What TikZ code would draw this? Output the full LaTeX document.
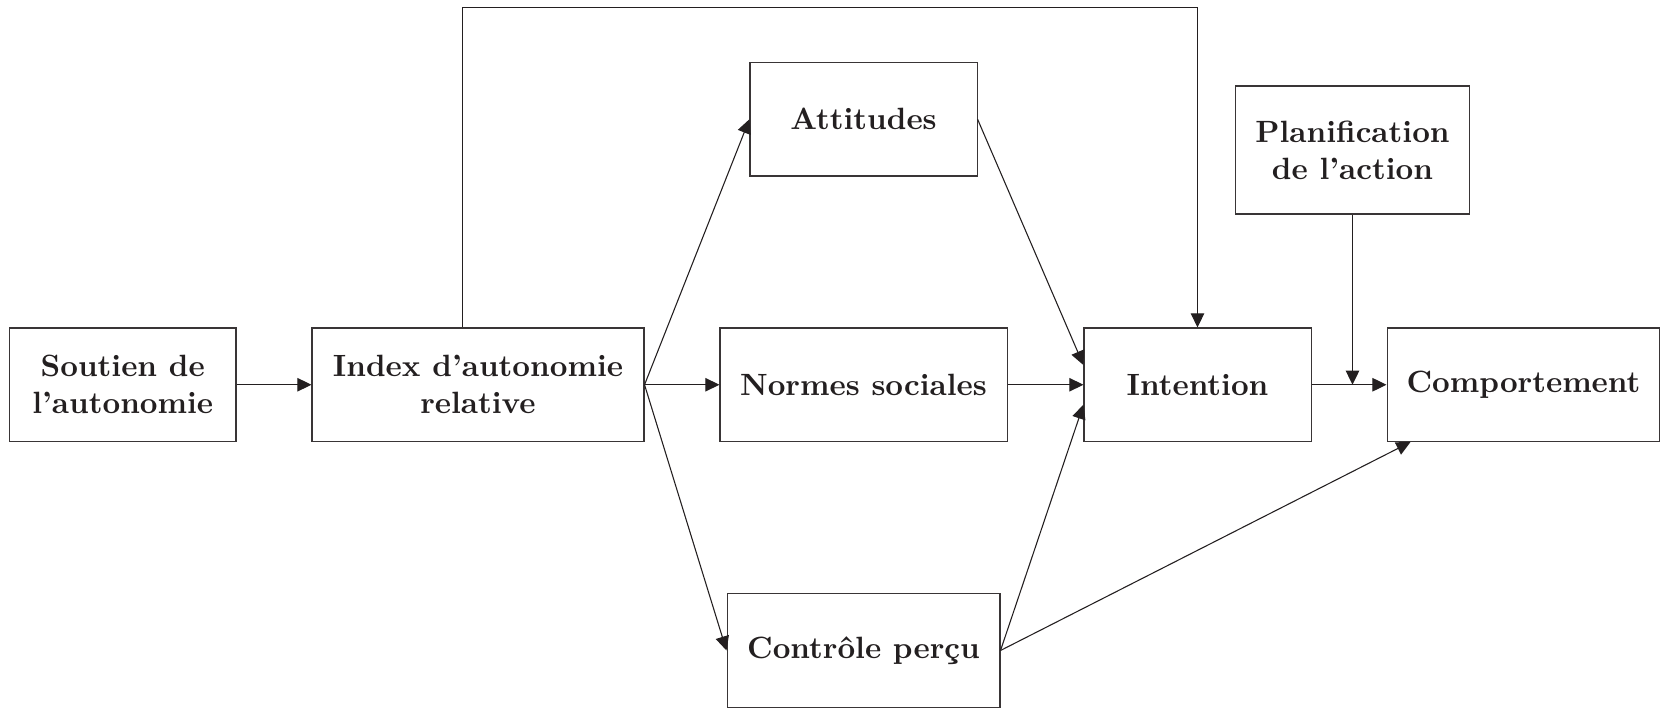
\documentclass[tikz,border=0pt]{standalone}
\usetikzlibrary{arrows.meta}
\definecolor{ink}{RGB}{35,31,32}
\tikzset{
  box/.style={draw=ink!90, text=ink, align=center, font=\bfseries, minimum height=36.9pt, inner sep=2pt, line width=0.35pt},
  arrow/.style={-{Triangle[length=4.6pt,width=4.4pt]}, color=ink, line width=0.35pt}
}
\begin{document}
\begin{tikzpicture}[x=0.325pt,y=-0.325pt]
        \useasboundingbox (0,0) rectangle (1660,709);
        %% Boxes
        \node[box, minimum width=73.6pt] (soutien)   at (122.75,384.75) {Soutien de\\l’autonomie};
        \node[box, minimum width=107.9pt] (index)    at (478,384.75)    {Index d’autonomie\\relative};
        \node[box, minimum width=73.8pt] (attitudes) at (863.5,119.25)  {Attitudes};
        \node[box, minimum width=93.3pt] (normes)    at (863.5,384.75)  {Normes sociales};
        \node[box, minimum width=88.7pt] (controle)  at (863.5,650.5)   {Contrôle perçu};
        \node[box, minimum width=73.8pt] (intention) at (1197.5,384.75) {Intention};
        \node[box, minimum width=76pt, minimum height=41.6pt] (planif) at (1352.5,150) {Planification\\de l’action};
        \node[box, minimum width=88.7pt] (comport)   at (1523.5,384.75) {Comportement};
        %% Connectors
        \draw[arrow] (soutien) -- (index);
        \draw[arrow] (index.east) -- (attitudes.west);
        \draw[arrow] (index.east) -- (normes.west);
        \draw[arrow] (index.east) -- (controle.west);
        \draw[arrow] (attitudes.east) -- ([yshift=6.4pt]intention.west);
        \draw[arrow] (normes) -- (intention);
        \draw[arrow] (controle.east) -- ([yshift=-6.5pt]intention.west);
        \draw[arrow] (controle.east) -- ([xshift=7.8pt]comport.south west);
        \draw[arrow] (intention) -- (comport);
        %% Feedback lines
        \coordinate (top) at (462.6,7.4);
        \draw[arrow] (index.north -| top) -- (top) -| (intention.north);
        \coordinate (junction) at (planif.south |- intention.east);
        \draw[arrow] (planif) -- (junction);
\end{tikzpicture}
\end{document}
